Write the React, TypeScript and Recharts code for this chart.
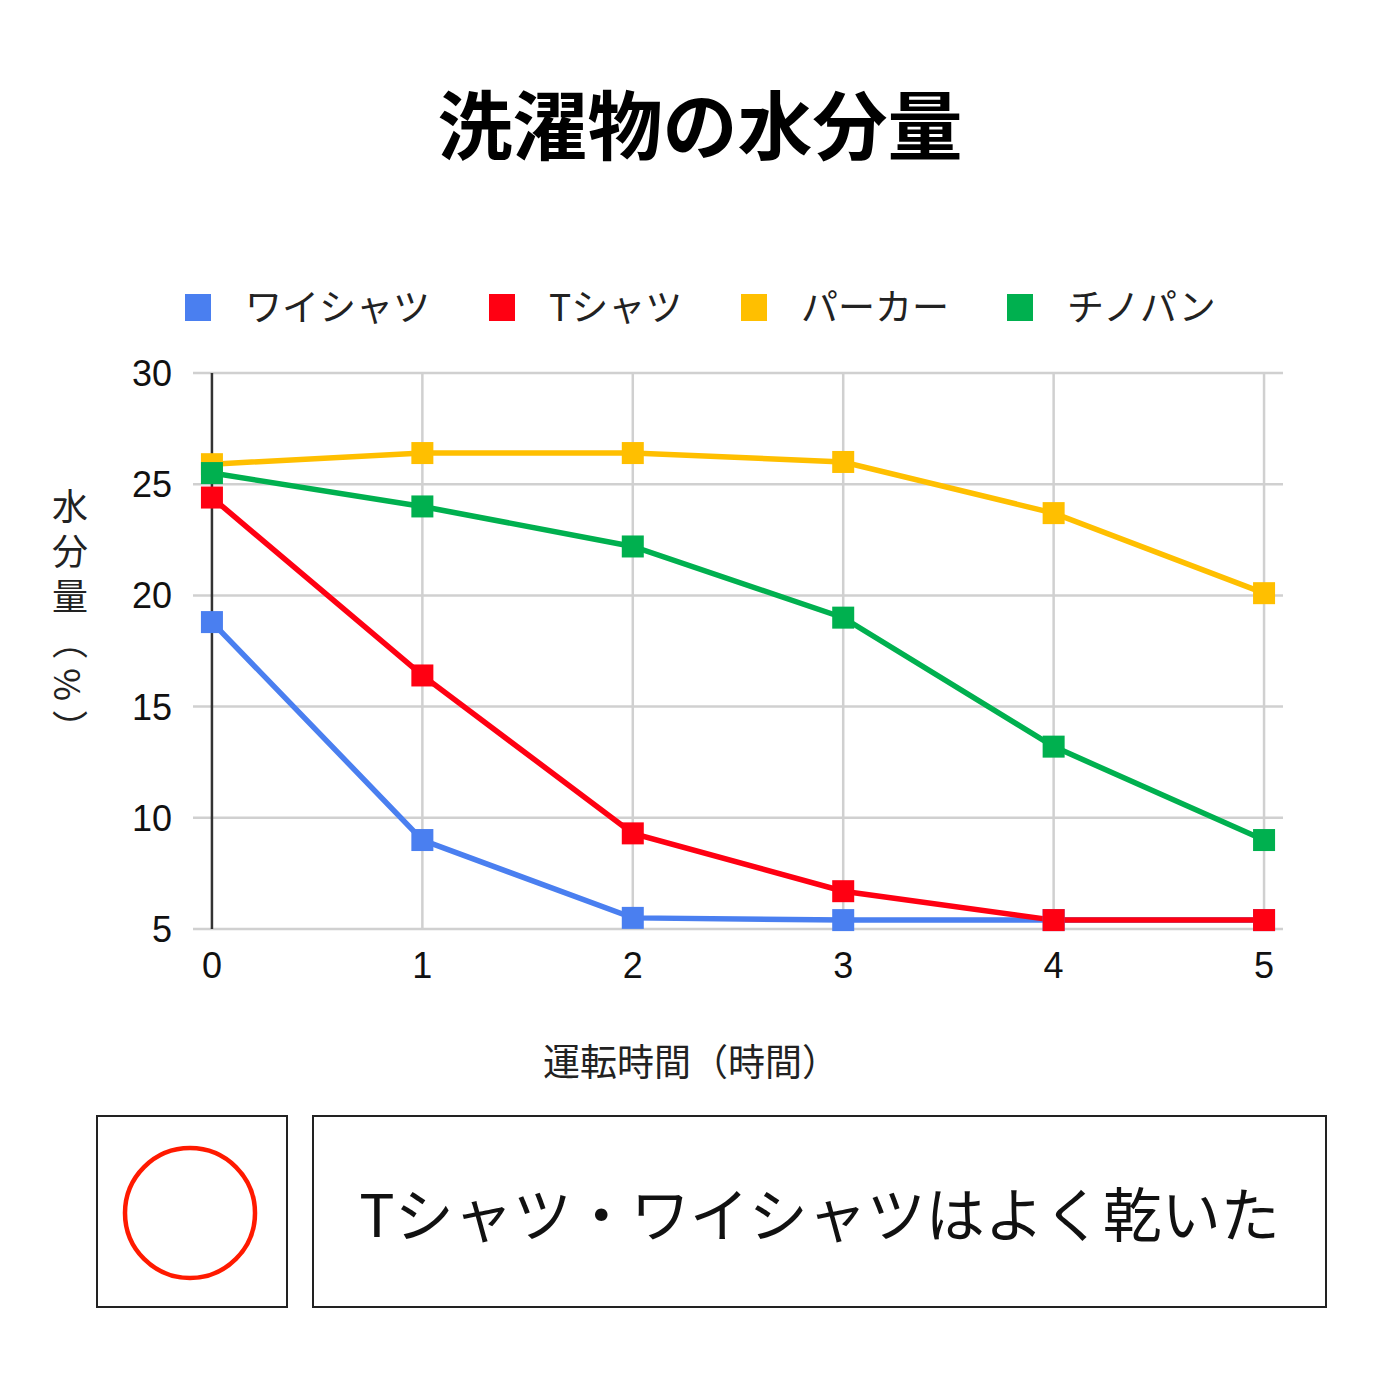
import React from 'react';
import {
  LineChart,
  Line,
  XAxis,
  YAxis,
  CartesianGrid,
  ReferenceLine,
} from 'recharts';

// values (moisture % per hour)
const hours = [0, 1, 2, 3, 4, 5];
const yShirt = [18.8, 9.0, 5.5, 5.4, 5.4, 5.4];
const tShirt = [24.4, 16.4, 9.3, 6.7, 5.4, 5.4];
const hoodie = [25.9, 26.4, 26.4, 26.0, 23.7, 20.1];
const chinos = [25.5, 24.0, 22.2, 19.0, 13.2, 9.0];
const yTicks = [5, 10, 15, 20, 25, 30];

const seriesNames = ['ワイシャツ', 'Tシャツ', 'パーカー', 'チノパン'];
const seriesKeys = ['yShirt', 'tShirt', 'hoodie', 'chinos'];
const COLORS = ['#4a7ff0', '#ff0012', '#ffbf00', '#00b04f'];

const chartData = hours.map((h, i) => ({
  hour: h,
  yShirt: yShirt[i],
  tShirt: tShirt[i],
  hoodie: hoodie[i],
  chinos: chinos[i],
}));

const NUM_FONT = '"Liberation Sans", Arial, sans-serif';
const JP_FONT = '"Noto Sans CJK JP", "Noto Sans", sans-serif';

const SquareDot = (color: string) => (props: any) => {
  const { cx, cy } = props;
  if (cx == null || cy == null) return null;
  return <rect x={cx - 11} y={cy - 11} width={22} height={22} fill={color} />;
};

const YTick = (props: any) => {
  const { x, y, payload } = props;
  return (
    <text x={x} y={y} dy={13} textAnchor="end" fontSize={36} fill="#111" fontFamily={NUM_FONT}>
      {payload.value}
    </text>
  );
};

const XTick = (props: any) => {
  const { x, y, payload } = props;
  return (
    <text x={x} y={y} dy={41} textAnchor="middle" fontSize={36} fill="#111" fontFamily={NUM_FONT}>
      {payload.value}
    </text>
  );
};

const legendX = [185, 489, 741, 1007];

const ChartLegend = () => (
  <>
    {seriesNames.map((name, i) => (
      <div key={name}>
        <div
          style={{
            position: 'absolute',
            left: legendX[i],
            top: 294,
            width: 26,
            height: 27,
            background: COLORS[i],
          }}
        />
        <div
          style={{
            position: 'absolute',
            left: legendX[i] + 60,
            top: 279,
            lineHeight: '52px',
            fontSize: 37,
            color: '#222',
            fontFamily: JP_FONT,
            whiteSpace: 'nowrap',
          }}
        >
          {name}
        </div>
      </div>
    ))}
  </>
);

export default function App() {
  return (
    <div style={{ position: 'absolute', left: 0, top: 0, width: 1400, height: 1400, background: '#fff' }}>
      <div
        style={{
          position: 'absolute',
          left: 0,
          top: 72,
          width: 1400,
          textAlign: 'center',
          fontFamily: JP_FONT,
          fontWeight: 700,
          fontSize: 75,
          lineHeight: '100px',
          color: '#000',
        }}
      >
        洗濯物の水分量
      </div>

      <ChartLegend />

      <LineChart
        width={1400}
        height={1400}
        data={chartData}
        margin={{ top: 373, right: 117, left: 113, bottom: 411 }}
        style={{ position: 'absolute', left: 0, top: 0 }}
      >
        <CartesianGrid stroke="#d0d0d0" strokeWidth={2.5} vertical={false} />
        <XAxis
          dataKey="hour"
          type="number"
          domain={[-0.09, 5.09]}
          ticks={hours}
          axisLine={false}
          tickLine={false}
          height={60}
          tick={<XTick />}
        />
        <YAxis
          type="number"
          domain={[5, 30]}
          ticks={yTicks}
          axisLine={false}
          tickLine={false}
          tickSize={0}
          tickMargin={21}
          width={80}
          tick={<YTick />}
        />
        {/* vertical grid only at the hour ticks; the zero line is dark */}
        {hours.map((h) => (
          <ReferenceLine
            key={`v-${h}`}
            x={h}
            stroke={h === 0 ? '#333' : '#d0d0d0'}
            strokeWidth={2.5}
          />
        ))}
        {seriesKeys.map((k, i) => (
          <Line
            key={k}
            type="linear"
            dataKey={k}
            name={seriesNames[i]}
            stroke={COLORS[i]}
            strokeWidth={5.5}
            dot={SquareDot(COLORS[i])}
            activeDot={false}
            isAnimationActive={false}
          />
        ))}
        <text
          x={691}
          y={1076}
          textAnchor="middle"
          fontSize={37}
          fill="#222"
          fontFamily={JP_FONT}
        >
          運転時間（時間）
        </text>
        <text
          x={70}
          y={488}
          fontSize={36}
          fill="#222"
          fontFamily={JP_FONT}
          textAnchor="start"
          letterSpacing={9}
          style={{ writingMode: 'vertical-rl' } as any}
        >
          水分量（%）
        </text>
      </LineChart>

      <div
        style={{
          position: 'absolute',
          left: 96,
          top: 1115,
          width: 188,
          height: 189,
          border: '2.5px solid #222',
          boxSizing: 'content-box',
        }}
      >
        <svg width={188} height={189}>
          <circle cx={92} cy={96} r={65} fill="none" stroke="#ff1a00" strokeWidth={4.5} />
        </svg>
      </div>
      <div
        style={{
          position: 'absolute',
          left: 312,
          top: 1115,
          width: 1011,
          height: 189,
          border: '2.5px solid #222',
          boxSizing: 'content-box',
          display: 'flex',
          alignItems: 'center',
          justifyContent: 'center',
          fontFamily: JP_FONT,
          fontSize: 59,
          color: '#111',
        }}
      >
        Tシャツ・ワイシャツはよく乾いた
      </div>
    </div>
  );
}
